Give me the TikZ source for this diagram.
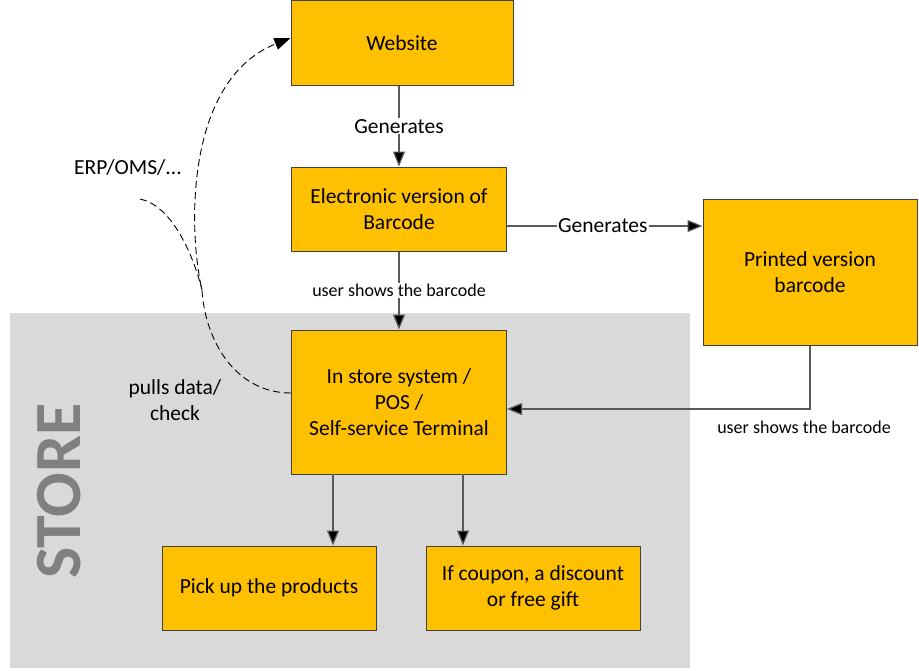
\documentclass[tikz,border=0pt]{standalone}
\usepackage{fontspec}
\setmainfont{Carlito}
\usetikzlibrary{arrows.meta}
\definecolor{boxfill}{HTML}{FFC000}
\definecolor{boxline}{HTML}{404040}
\definecolor{storebg}{HTML}{D9D9D9}
\definecolor{storetext}{HTML}{808080}
\definecolor{linegray}{HTML}{595959}
\tikzset{
  stepbox/.style={draw=boxline, fill=boxfill, line width=1pt, align=center, font=\fontsize{21.5}{26}\selectfont, inner sep=0pt},
  conn/.style={draw=linegray, line width=1.2pt, -{Triangle[length=15pt,width=12pt,fill=black]}},
  small/.style={font=\fontsize{18}{21}\selectfont, fill=white, inner sep=1pt},
  big/.style={font=\fontsize{21.5}{26}\selectfont, align=center},
  dashconn/.style={draw=black, line width=0.9pt, dash pattern=on 7pt off 4pt}
}
\begin{document}
\begin{tikzpicture}[x=1pt,y=-1pt]
\useasboundingbox (0,0) rectangle (919,670);
% store background
\fill[storebg] (10,313) rectangle (690,668);
\node[rotate=90, font=\fontsize{66}{66}\selectfont\bfseries, text=storetext] (storelbl) at (59,491) {STORE};
% boxes
\node[stepbox, minimum width=222pt, minimum height=85pt] (web) at (402,43) {Website};
\node[stepbox, minimum width=215pt, minimum height=84pt] (elec) at (399,209) {Electronic version of\\Barcode};
\node[stepbox, minimum width=214pt, minimum height=146pt] (print) at (810,272) {Printed version\\barcode};
\node[stepbox, minimum width=215pt, minimum height=144pt] (pos) at (399,402) {In store system /\\POS /\\Self-service Terminal};
\node[stepbox, minimum width=214pt, minimum height=84pt] (pick) at (269,588) {Pick up the products};
\node[stepbox, minimum width=214pt, minimum height=84pt] (coupon) at (533,588) {If coupon, a discount\\or free gift};
% connectors
\draw[conn] (elec.north |- web.south) -- node[big, fill=white, inner sep=1pt] (gen1) {Generates} (elec.north);
\draw[conn] (elec.south) -- node[small] (usr1) {user shows the barcode} (pos.north);
\draw[conn] (elec.east |- 0,226) -- node[big, fill=white, inner sep=1pt, pos=0.49] (gen2) {Generates} (print.west |- 0,226);
\coordinate (bend) at (810,409);
\draw[conn] (print.south -| bend) -- (bend) -- (pos.east |- bend);
\node[small, fill=none] (usr2) at (804,427) {user shows the barcode};
\draw[conn] (333,474) -- (pick.north -| 333,0);
\draw[conn] (463,474) -- (coupon.north -| 463,0);
% dashed
\coordinate (pospt) at (291,393);
\coordinate (erpstart) at (140,199);
\coordinate (merge) at (202,290);
\draw[dashconn, -{Triangle[length=16pt,width=12pt]}] (pospt) .. controls (235,393) and (205,340) .. (merge) .. controls (188,230) and (185,80) .. (web.west |- 0,38);
\draw[dashconn] (erpstart) .. controls (170,205) and (192,250) .. (merge);
% labels
\node[big] (erp) at (128,167) {ERP/OMS/...};
\node[big] (pulls) at (175,400) {pulls data/\\check};
\end{tikzpicture}
\end{document}
